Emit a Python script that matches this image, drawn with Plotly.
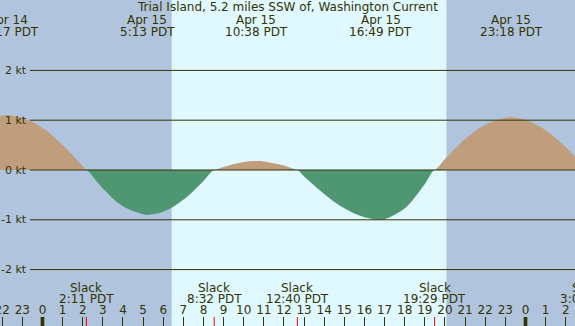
import plotly.graph_objects as go

# ---- data (hours relative to Apr 15 00:00 PDT) ----
curve_hours = [-3, -2, -1.717, -1, 0, 1, 2, 2.183, 3, 4, 5, 5.217, 6, 7, 8, 8.533,
               9, 10, 10.633, 11, 12, 12.667, 13, 14, 15, 16, 16.817, 17, 18, 19,
               19.483, 20, 21, 22, 23, 23.3, 24, 25, 26, 27, 27.1]
curve_knots = [0.96, 1.09, 1.10, 1.05, 0.85, 0.50, 0.08, 0.0, -0.37, -0.73, -0.89, -0.90,
               -0.84, -0.60, -0.22, 0.0, 0.06, 0.16, 0.18, 0.17, 0.09, 0.0, -0.13, -0.48,
               -0.77, -0.95, -1.00, -0.99, -0.77, -0.28, 0.0, 0.22, 0.62, 0.91, 1.05, 1.06,
               1.01, 0.80, 0.46, 0.03, 0.0]

peak_hours = [-1.717, 5.217, 10.633, 16.817, 23.3]
peak_dates = ["Apr 14", "Apr 15", "Apr 15", "Apr 15", "Apr 15"]
peak_times = ["22:17 PDT", "5:13 PDT", "10:38 PDT", "16:49 PDT", "23:18 PDT"]

slack_hours = [2.183, 8.533, 12.667, 19.483, 27.1]
slack_times = ["2:11 PDT", "8:32 PDT", "12:40 PDT", "19:29 PDT", "3:06 PDT"]

hour_ticks = list(range(-2, 27))
hour_labels = ["22", "23", "0", "1", "2", "3", "4", "5", "6", "7", "8", "9", "10", "11",
               "12", "13", "14", "15", "16", "17", "18", "19", "20", "21", "22", "23",
               "0", "1", "2"]

kt_values = [2, 1, 0, -1, -2]
kt_labels = ["2 kt", "1 kt", "0 kt", "-1 kt", "-2 kt"]

sunrise, sunset = 6.42, 20.07
title = "Trial Island, 5.2 miles SSW of, Washington Current"

# ---- style ----
W, H = 575, 326
XR = [-2.11, 26.46]
NIGHT = "#b0c4de"
DAY = "#e0f8ff"
FLOOD = "#bf9d7d"
EBB = "#4f9772"
INK = "#333300"
FONT = "DejaVu Sans"

pos = [max(v, 0) for v in curve_knots]
neg = [min(v, 0) for v in curve_knots]

fig = go.Figure()
fig.add_trace(go.Scatter(x=curve_hours, y=pos, mode="lines", fill="tozeroy",
                         fillcolor=FLOOD, line=dict(width=0, shape="spline", color=FLOOD),
                         hoverinfo="skip", showlegend=False))
fig.add_trace(go.Scatter(x=curve_hours, y=neg, mode="lines", fill="tozeroy",
                         fillcolor=EBB, line=dict(width=0, shape="spline", color=EBB),
                         hoverinfo="skip", showlegend=False))

shapes = []
# daylight band
shapes.append(dict(type="rect", xref="x", yref="paper", x0=sunrise, x1=sunset, y0=0, y1=1,
                   fillcolor=DAY, line=dict(width=0), layer="below"))
# grid lines
for v in kt_values:
    shapes.append(dict(type="line", xref="paper", yref="y", x0=30 / W, x1=1, y0=v, y1=v,
                       line=dict(color=INK, width=1), layer="above"))
# midnight thick ticks
for h in [0, 24]:
    shapes.append(dict(type="rect", xref="x", yref="paper", x0=h - 0.09, x1=h + 0.09,
                       y0=0, y1=9 / H, fillcolor=INK, line=dict(width=0), layer="above"))
# slack red ticks
for h in slack_hours:
    if XR[0] <= h <= XR[1]:
        shapes.append(dict(type="line", xref="x", yref="paper", x0=h, x1=h, y0=0, y1=9 / H,
                           line=dict(color="red", width=1), layer="above"))

ann = []
def py(p):
    return 1 - p / H

def hx(h):
    # hour -> paper fraction along the x axis range
    return (h - XR[0]) / (XR[1] - XR[0])

ann.append(dict(text=title, xref="paper", yref="paper", x=287 / W, y=py(7.5),
                showarrow=False, xanchor="center", yanchor="middle",
                font=dict(family=FONT, size=12, color=INK)))
for h, d, t in zip(peak_hours, peak_dates, peak_times):
    ann.append(dict(text=d, xref="paper", yref="paper", x=hx(h), y=py(20), showarrow=False,
                    xanchor="center", yanchor="middle", font=dict(family=FONT, size=12, color=INK)))
    ann.append(dict(text=t, xref="paper", yref="paper", x=hx(h), y=py(31.5), showarrow=False,
                    xanchor="center", yanchor="middle", font=dict(family=FONT, size=12, color=INK)))
for h, t in zip(slack_hours, slack_times):
    ann.append(dict(text="Slack", xref="paper", yref="paper", x=hx(h), y=py(287.5), showarrow=False,
                    xanchor="center", yanchor="middle", font=dict(family=FONT, size=12, color=INK)))
    ann.append(dict(text=t, xref="paper", yref="paper", x=hx(h), y=py(299), showarrow=False,
                    xanchor="center", yanchor="middle", font=dict(family=FONT, size=12, color=INK)))
for v, lab in zip(kt_values, kt_labels):
    ann.append(dict(text=lab, xref="paper", yref="y", x=28.5 / W, y=v, showarrow=False,
                    xanchor="right", yanchor="middle", font=dict(family=FONT, size=11, color=INK)))

fig.update_layout(
    width=W, height=H, margin=dict(l=0, r=0, t=0, b=0, autoexpand=False),
    paper_bgcolor=NIGHT, plot_bgcolor=NIGHT,
    shapes=shapes, annotations=ann, showlegend=False,
    xaxis=dict(range=XR, tickvals=hour_ticks, ticktext=hour_labels, automargin=False,
               ticks="inside", ticklen=9, tickcolor=INK, tickwidth=1,
               ticklabelposition="inside", ticklabeloverflow="allow",
               showgrid=False, zeroline=False,
               showline=False, tickfont=dict(family=FONT, size=12, color=INK), fixedrange=True),
    yaxis=dict(range=[-3.133, 3.414], showticklabels=False, showgrid=False, automargin=False,
               zeroline=False, ticks="", fixedrange=True),
)

fig.write_html("out.html", config={"displayModeBar": False},
               post_script="document.body.style.margin='0';document.body.style.overflow='hidden';")
